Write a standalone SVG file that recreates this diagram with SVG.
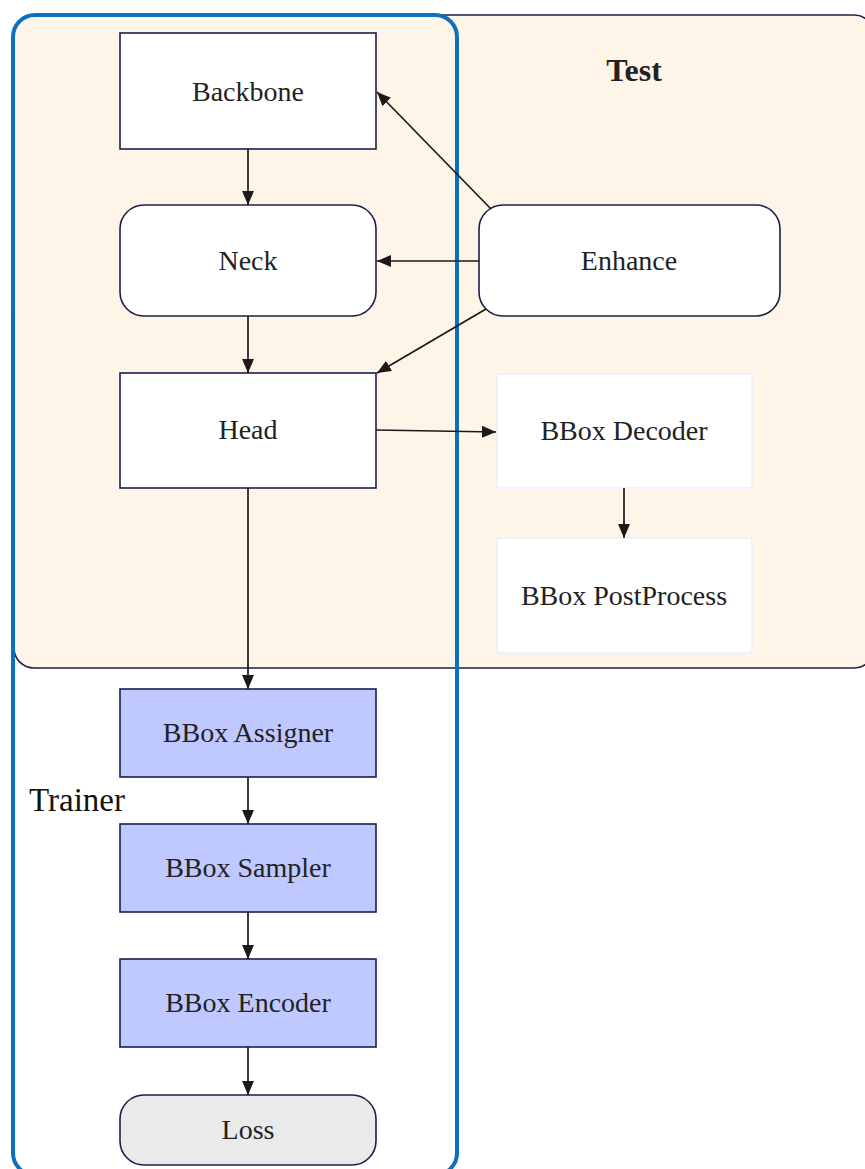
<svg xmlns="http://www.w3.org/2000/svg" width="865" height="1169" viewBox="0 0 865 1169">
<style>
.node{stroke:#1b1f4b;stroke-width:1.6}
.w{fill:#ffffff}
.b{fill:#bfc8ff}
.g{fill:#eaeaea}
.ghost{fill:#ffffff;stroke:#eaf0fb;stroke-width:1.6}
.t{font-family:"Liberation Serif","Times New Roman",serif;font-size:28px;fill:#222;text-anchor:middle}
.c{stroke:#1a1a1a;stroke-width:1.7;fill:none;marker-end:url(#ah)}
</style>
<defs>
<marker id="ah" viewBox="0 0 14 12" refX="14" refY="6" markerWidth="14" markerHeight="12" markerUnits="userSpaceOnUse" orient="auto">
<path d="M0,0 L14,6 L0,12 Z" fill="#1a1a1a"/>
</marker>
</defs>
<rect width="865" height="1169" fill="#ffffff"/>
<g id="test">
<rect x="14" y="15" width="860" height="653" rx="20" fill="#fff4e8" stroke="#1b1f4b" stroke-width="1.6"/>
<text x="634" y="81" class="t" style="font-weight:bold;font-size:32px">Test</text>
</g>
<g id="trainer">
<rect x="13" y="15" width="444" height="1160" rx="22" fill="none" stroke="#0a70c0" stroke-width="4"/>
<text x="29" y="811" style="font-family:'Liberation Serif','Times New Roman',serif;font-size:33px;fill:#111">Trainer</text>
</g>
<g id="backbone"><rect class="node w" x="120" y="33" width="256" height="116"/><text class="t" x="248" y="101">Backbone</text></g>
<g id="neck"><rect class="node w" x="120" y="205" width="256" height="111" rx="24"/><text class="t" x="248" y="270">Neck</text></g>
<g id="head"><rect class="node w" x="120" y="373" width="256" height="115"/><text class="t" x="248" y="439">Head</text></g>
<g id="enhance"><rect class="node w" x="479" y="205" width="301" height="111" rx="24"/><text class="t" x="629" y="270">Enhance</text></g>
<g id="decoder"><rect class="ghost" x="497" y="374" width="255" height="114"/><text class="t" x="624" y="440">BBox Decoder</text></g>
<g id="postprocess"><rect class="ghost" x="497" y="538" width="255" height="115"/><text class="t" x="624" y="605">BBox PostProcess</text></g>
<g id="assigner"><rect class="node b" x="120" y="689" width="256" height="88"/><text class="t" x="248" y="742">BBox Assigner</text></g>
<g id="sampler"><rect class="node b" x="120" y="824" width="256" height="88"/><text class="t" x="248" y="877">BBox Sampler</text></g>
<g id="encoder"><rect class="node b" x="120" y="959" width="256" height="88"/><text class="t" x="248" y="1012">BBox Encoder</text></g>
<g id="loss"><rect class="node g" x="120" y="1095" width="256" height="70" rx="24"/><text class="t" x="248" y="1139">Loss</text></g>
<g id="connectors">
<line class="c" x1="248" y1="149" x2="248" y2="205"/>
<line class="c" x1="248" y1="316" x2="248" y2="373"/>
<line class="c" x1="491" y1="209" x2="377" y2="92"/>
<line class="c" x1="479" y1="261" x2="377" y2="261"/>
<line class="c" x1="486" y1="309" x2="377" y2="373"/>
<line class="c" x1="376" y1="430" x2="496" y2="432"/>
<line class="c" x1="624" y1="488" x2="624" y2="538"/>
<line class="c" x1="248" y1="488" x2="248" y2="689"/>
<line class="c" x1="248" y1="777" x2="248" y2="824"/>
<line class="c" x1="248" y1="912" x2="248" y2="959"/>
<line class="c" x1="248" y1="1047" x2="248" y2="1095"/>
</g>
</svg>
